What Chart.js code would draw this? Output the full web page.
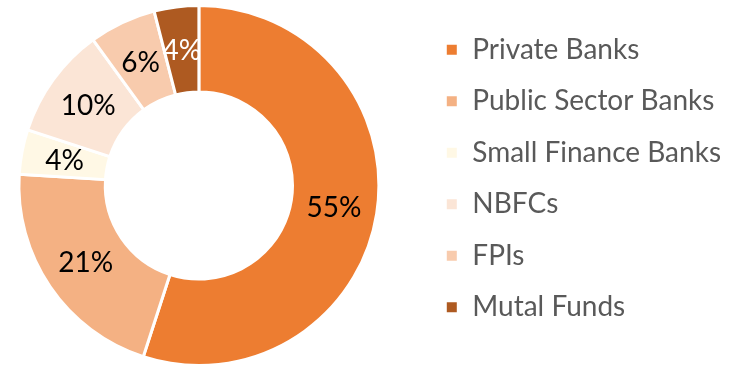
<!DOCTYPE html>
<html>
<head>
<meta charset="utf-8">
<script src="https://cdn.jsdelivr.net/npm/chart.js@4.4.1/dist/chart.umd.min.js"></script>
<style>
  html, body { margin: 0; padding: 0; background: #fff; }
  #wrap { width: 733px; height: 367px; position: relative; }
</style>
</head>
<body>
<div id="wrap"><canvas id="chart"></canvas></div>
<script>
// share of lending by source (%)
const categorias = ["Private Banks", "Public Sector Banks", "Small Finance Banks", "NBFCs", "FPIs", "Mutal Funds"];
const valores = [55, 21, 4, 10, 6, 4];
const cores = ["#ED7D31", "#F4B183", "#FFF8E5", "#FBE5D6", "#F8CBAD", "#AE5A21"];
const corRotulo = ["#000", "#000", "#000", "#000", "#000", "#fff"];

const FONTE = "Lato, 'Open Sans', sans-serif";

// rótulos de porcentagem no meio de cada fatia
const rotulos = {
  id: "rotulos",
  afterDatasetsDraw(chart) {
    const ctx = chart.ctx;
    const meta = chart.getDatasetMeta(0);
    ctx.save();
    ctx.font = "28px " + FONTE;
    ctx.textAlign = "center";
    ctx.textBaseline = "middle";
    meta.data.forEach((arco, i) => {
      const p = arco.tooltipPosition();
      ctx.fillStyle = corRotulo[i];
      ctx.fillText(valores[i] + "%", p.x, p.y + 1);
    });
    ctx.restore();
  }
};

// ajusta posições: legenda um pouco acima, rosca um pouco à esquerda
const ajusteLayout = {
  id: "ajusteLayout",
  afterLayout(chart) {
    chart.legend.top -= 7;
    chart.legend.bottom -= 7;
    chart.chartArea.left -= 12;
    chart.chartArea.right -= 12;
  }
};

const ctx = document.getElementById("chart");
const myChart = new Chart(ctx, {
  type: "doughnut",
  data: {
    labels: categorias,
    datasets: [{
      data: valores,
      backgroundColor: cores,
      borderColor: "#fff",
      borderWidth: 3
    }]
  },
  options: {
    responsive: true,
    maintainAspectRatio: false,
    animation: false,
    cutout: "52%",
    layout: { padding: { top: 4, bottom: 0, left: 0, right: 2 } },
    plugins: {
      tooltip: { enabled: false },
      legend: {
        position: "right",
        labels: {
          color: "#595959",
          boxWidth: 13,
          boxHeight: 13,
          padding: 23.5,
          font: { family: FONTE, size: 28 }
        }
      }
    }
  },
  plugins: [rotulos, ajusteLayout]
});
</script>
</body>
</html>
